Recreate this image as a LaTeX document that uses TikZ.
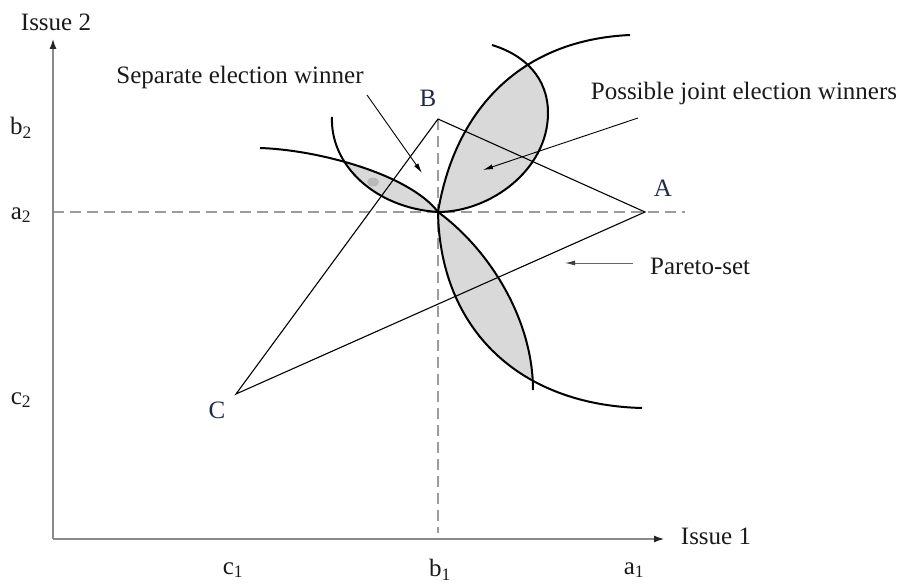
\documentclass[tikz,border=0pt]{standalone}
\usepackage{fontspec}
\setmainfont{Liberation Serif}
\usetikzlibrary{arrows.meta}
\definecolor{axisgray}{HTML}{8A8A8A}
\definecolor{dashgray}{HTML}{9C9C9C}
\definecolor{lensgray}{HTML}{D9D9D9}
\definecolor{blobgray}{HTML}{B8B8B8}
\definecolor{ptblue}{HTML}{1E2A4A}
\definecolor{txt}{HTML}{1A1A1A}
\begin{document}
\begin{tikzpicture}[x=1pt,y=-1pt,
  font=\fontsize{25}{30}\selectfont,
  curveline/.style={line width=2pt, black},
  triline/.style={line width=1.1pt, black},
  axisline/.style={line width=2.4pt, axisgray, -{Latex[length=11pt,width=7pt,fill=black!85,color=black!85]}},
  guide/.style={line width=1.5pt, dashgray, dash pattern=on 11pt off 6pt},
  pointer/.style={line width=0.9pt, -{Latex[length=10pt,width=5pt]}},
  lbl/.style={inner sep=0pt, text=txt},
  ptlabel/.style={inner sep=0pt, text=ptblue}]
\useasboundingbox (0,0) rectangle (906,586);

% key points
\coordinate (O) at (53,539);
\coordinate (Ytop) at (53,38);
\coordinate (Xend) at (665,539);
\coordinate (M) at (438,212);
\coordinate (B) at (438,119);
\coordinate (A) at (645,212);
\coordinate (C) at (236,394);
\coordinate (H0) at (53,212);
\coordinate (H1) at (685,212);
\coordinate (V1) at (438,533);

% shaded lenses
\begin{scope}
  \clip (M) .. controls (455,110) and (520,40) .. (630,35) -- (700,30) -- (700,260) -- (438,260) -- cycle;
  \fill[lensgray] (492,45) .. controls (525,55) and (548,78) .. (548,113) .. controls (548,170) and (490,212) .. (M) -- (300,212) -- (300,45) -- cycle;
\end{scope}
\begin{scope}
  \clip (260,148) .. controls (320,150) and (410,175) .. (M) -- (438,260) -- (250,260) -- cycle;
  \fill[lensgray] (332,117) .. controls (330,165) and (375,208) .. (M) -- (438,100) -- (332,100) -- cycle;
\end{scope}
\begin{scope}
  \clip (M) .. controls (440,330) and (520,405) .. (642,408) -- (700,408) -- (700,200) -- (438,200) -- cycle;
  \fill[lensgray] (M) .. controls (490,250) and (533,320) .. (533,390) -- (533,430) -- (420,430) -- (420,212) -- cycle;
\end{scope}
\fill[blobgray] (373,182) ellipse (6 and 4.5);

% guides
\draw[guide] (H0) -- (H1);
\draw[guide] (B) -- (V1);

% axes
\draw[axisline] (O) -- (Ytop);
\draw[axisline] (O) -- (Xend);

% triangle
\draw[triline] (B) -- (A) -- (C) -- cycle;

% curves
\draw[curveline] (M) .. controls (455,110) and (520,40) .. (630,35);
\draw[curveline] (492,45) .. controls (525,55) and (548,78) .. (548,113) .. controls (548,170) and (490,212) .. (M);
\draw[curveline] (260,148) .. controls (320,150) and (410,175) .. (M);
\draw[curveline] (332,117) .. controls (330,165) and (375,208) .. (M);
\draw[curveline] (M) .. controls (440,330) and (520,405) .. (642,408);
\draw[curveline] (M) .. controls (490,250) and (533,320) .. (533,390);

% labels
\node[lbl] (issue2) at (56,22) {Issue 2};
\node[lbl] (issue1) at (716,536) {Issue 1};
\node[lbl] (b2) at (21,128) {b\textsubscript{2}};
\node[lbl] (a2) at (21,215) {a\textsubscript{2}};
\node[lbl] (c2) at (21,400) {c\textsubscript{2}};
\node[lbl] (c1) at (233,570) {c\textsubscript{1}};
\node[lbl] (b1) at (440,570) {b\textsubscript{1}};
\node[lbl] (a1) at (634,570) {a\textsubscript{1}};
\node[ptlabel] (Bl) at (428,98) {B};
\node[ptlabel] (Al) at (663,188) {A};
\node[ptlabel] (Cl) at (217,410) {C};

\node[lbl] (sep) at (240,77) {Separate election winner};
\node[lbl] (pos) at (744,93) {Possible joint election winners};
\node[lbl, anchor=west] (par) at (650,266) {Pareto-set};

% pointers
\coordinate (sepT) at (367,95);
\coordinate (sepH) at (422,173);
\coordinate (posT) at (638,118);
\coordinate (posH) at (483,170);
\coordinate (parT) at (633,263);
\coordinate (parH) at (565,263);
\draw[pointer] (sepT) -- (sepH);
\draw[pointer] (posT) -- (posH);
\draw[pointer, draw=black!60, -{Latex[length=10pt,width=5pt,color=black!75]}] (parT) -- (parH);
\end{tikzpicture}
\end{document}
